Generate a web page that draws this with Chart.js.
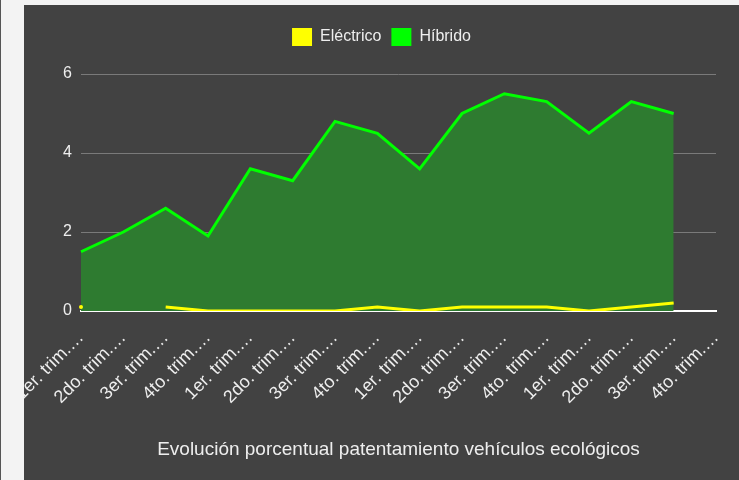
<!DOCTYPE html>
<html>
<head>
<meta charset="utf-8">
<script src="https://cdn.jsdelivr.net/npm/chart.js@4.4.0/dist/chart.umd.min.js"></script>
<style>
    body { margin: 0; background: #f3f3f3; width: 739px; height: 480px; overflow: hidden; position: relative; font-family: Arial, 'Liberation Sans', sans-serif; }
    #edge { position: absolute; left: 0; top: 0; width: 1px; height: 480px; background: #555; }
    #panel { position: absolute; left: 24px; top: 5px; width: 715px; height: 475px; background: #424242; }
    #title { position: absolute; left: 81px; width: 635px; top: 438px; line-height: 22px; text-align: center; color: #eeeeee; font-size: 19px; }
</style>
</head>
<body>
<div id="edge"></div>
<div id="panel"><canvas id="chart"></canvas></div>
<div id="title">Evolución porcentual patentamiento vehículos ecológicos</div>
<script>
const trimestres = [
    '1er. trim.…', '2do. trim.…', '3er. trim.…', '4to. trim.…',
    '1er. trim.…', '2do. trim.…', '3er. trim.…', '4to. trim.…',
    '1er. trim.…', '2do. trim.…', '3er. trim.…', '4to. trim.…',
    '1er. trim.…', '2do. trim.…', '3er. trim.…', '4to. trim.…'
];
const electrico = [0.1, null, 0.1, 0, 0, 0, 0, 0.1, 0, 0.1, 0.1, 0.1, 0, 0.1, 0.2, null];
const hibrido = [1.5, 2.0, 2.6, 1.9, 3.6, 3.3, 4.8, 4.5, 3.6, 5.0, 5.5, 5.3, 4.5, 5.3, 5.0, null];
const yTicks = [0, 2, 4, 6];

const textColor = '#eeeeee';
const font = { family: "Arial, 'Liberation Sans', sans-serif", size: 16 };

// extra space under the legend
const legendSpace = {
    id: 'legendSpace',
    beforeInit(chart) {
        const fit = chart.legend.fit;
        chart.legend.fit = function () {
            fit.bind(chart.legend)();
            this.height += 18;
        };
    }
};

// a lone point (no neighbours) still shows as a small dot
function lonePoint(ctx) {
    const d = ctx.dataset.data;
    const i = ctx.dataIndex;
    if (d[i] == null) return 0;
    return (d[i - 1] == null && d[i + 1] == null) ? 2 : 0;
}

new Chart(document.getElementById('chart'), {
    type: 'line',
    data: {
        labels: trimestres,
        datasets: [{
            label: 'Eléctrico',
            data: electrico,
            borderColor: '#ffff00',
            backgroundColor: '#ffff00',
            borderWidth: 3,
            pointRadius: lonePoint,
            pointBorderWidth: 0,
            tension: 0,
            fill: false
        }, {
            label: 'Híbrido',
            data: hibrido,
            borderColor: '#00ff00',
            backgroundColor: '#2e7b30',
            borderWidth: 3,
            pointRadius: 0,
            tension: 0,
            fill: 'origin'
        }]
    },
    options: {
        responsive: true,
        maintainAspectRatio: false,
        animation: false,
        layout: { padding: { top: 13 } },
        plugins: {
            tooltip: { enabled: false },
            legend: {
                position: 'top',
                labels: {
                    color: textColor,
                    font: font,
                    boxWidth: 20,
                    boxHeight: 18,
                    padding: 10,
                    generateLabels(chart) {
                        return chart.data.datasets.map((ds, i) => ({
                            text: ds.label,
                            fillStyle: ds.borderColor,
                            strokeStyle: ds.borderColor,
                            lineWidth: 0,
                            fontColor: textColor,
                            datasetIndex: i
                        }));
                    }
                }
            }
        },
        scales: {
            x: {
                grid: { display: false },
                border: { color: '#ffffff', width: 2 },
                ticks: {
                    color: textColor,
                    font: { family: font.family, size: 18 },
                    autoSkip: false,
                    minRotation: 45,
                    maxRotation: 45,
                    padding: 8
                },
                afterFit(scale) {
                    scale.height = 169;
                    scale.paddingLeft = 0;
                    scale.paddingRight = 23;
                }
            },
            y: {
                min: 0,
                max: 6,
                afterBuildTicks(scale) {
                    scale.ticks = yTicks.map(v => ({ value: v }));
                },
                grid: { color: '#7a7a7a', lineWidth: 1, drawTicks: false },
                border: { display: false },
                ticks: { color: textColor, font: font, padding: 9 },
                afterFit(scale) {
                    scale.width = 57;
                }
            }
        }
    },
    plugins: [legendSpace]
});
</script>
</body>
</html>
